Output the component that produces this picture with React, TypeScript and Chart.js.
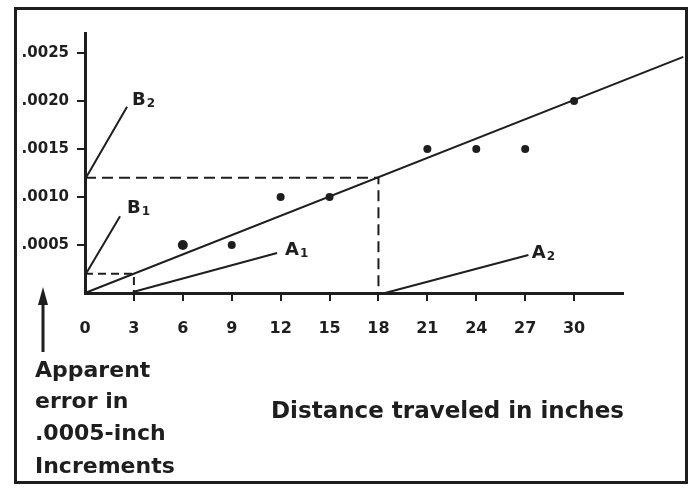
import { useEffect, useRef } from "react";
import { Chart, registerables } from "chart.js";

Chart.register(...registerables);

// ---- data (in chart units) ----
const xTicks = [0, 3, 6, 9, 12, 15, 18, 21, 24, 27, 30];
const yTicks = [0.0005, 0.001, 0.0015, 0.002, 0.0025];
const distance = [6, 9, 12, 15, 21, 24, 27, 30];
const apparentError = [0.0005, 0.0005, 0.001, 0.001, 0.0015, 0.0015, 0.0015, 0.002];
const pointSizes = [5, 4, 4, 4, 4, 4, 4, 4];
const fitX = [0, 36.7];
const fitY = [0, 0.00246];
const guideB2X = [0, 18, 18];
const guideB2Y = [0.0012, 0.0012, 0];
const guideB1X = [0, 3, 3];
const guideB1Y = [0.0002, 0.0002, 0];
const calloutMain = ["B", "B", "A", "A"];
const calloutSub = ["2", "1", "1", "2"];
const calloutX = [2.88, 2.58, 12.27, 27.4];
const calloutY = [0.00196, 0.000833, 0.000396, 0.000365];
const leaderFromX = [0.06, 0.06, 2.94, 18.4];
const leaderFromY = [0.0012, 0.0002, 0.00001, 0];
const leaderToX = [2.58, 2.15, 11.78, 27.2];
const leaderToY = [0.00194, 0.0008, 0.000417, 0.000396];
const yAxisNote = ["Apparent", "error in", ".0005-inch", "Increments"];
const xTitle = "Distance traveled in inches";

const INK = "#1e1e1e";
const FONT = "'DejaVu Sans', sans-serif";

const zip = (xs: number[], ys: number[]) => xs.map((x, i) => ({ x, y: ys[i] }));

const decorations = {
  id: "decorations",
  afterDraw(chart: any) {
    const { ctx } = chart;
    const xs = chart.scales.x;
    const ys = chart.scales.y;
    ctx.save();
    // frame
    ctx.strokeStyle = INK;
    ctx.lineWidth = 3;
    ctx.strokeRect(15.5, 8.5, 671, 474);

    // callout labels
    ctx.fillStyle = INK;
    ctx.textBaseline = "alphabetic";
    ctx.textAlign = "left";
    calloutMain.forEach((m, i) => {
      const px = xs.getPixelForValue(calloutX[i]);
      const py = ys.getPixelForValue(calloutY[i]);
      ctx.font = `bold 18px ${FONT}`;
      ctx.fillText(m, px, py);
      const w = ctx.measureText(m).width;
      ctx.font = `bold 12px ${FONT}`;
      ctx.fillText(calloutSub[i], px + w + 1, py + 2);
    });

    // y-axis note
    ctx.font = `bold 22px ${FONT}`;
    const baselines = [377, 408, 440, 473];
    yAxisNote.forEach((t, i) => ctx.fillText(t, 35, baselines[i]));

    // x title
    ctx.font = `bold 23px ${FONT}`;
    ctx.fillText(xTitle, 271, 418);

    // arrow
    ctx.strokeStyle = INK;
    ctx.lineWidth = 3;
    ctx.beginPath();
    ctx.moveTo(43, 352);
    ctx.lineTo(43, 300);
    ctx.stroke();
    ctx.beginPath();
    ctx.moveTo(43, 287);
    ctx.lineTo(48, 305);
    ctx.lineTo(38, 305);
    ctx.closePath();
    ctx.fill();
    ctx.restore();
  },
};

export default function App() {
  const ref = useRef<HTMLCanvasElement | null>(null);

  useEffect(() => {
    if (!ref.current) return;
    const leaders = calloutMain.map((_, i) => ({
      type: "line" as const,
      data: [
        { x: leaderFromX[i], y: leaderFromY[i] },
        { x: leaderToX[i], y: leaderToY[i] },
      ],
      borderColor: INK,
      borderWidth: 2,
      pointRadius: 0,
      clip: false as any,
    }));
    const chart = new Chart(ref.current, {
      type: "scatter",
      data: {
        datasets: [
          {
            type: "line",
            data: zip(fitX, fitY),
            borderColor: INK,
            borderWidth: 2,
            pointRadius: 0,
            clip: false as any,
          },
          {
            type: "line",
            data: zip(guideB2X, guideB2Y),
            borderColor: INK,
            borderWidth: 2,
            borderDash: [11, 6],
            pointRadius: 0,
            clip: false as any,
          },
          {
            type: "line",
            data: zip(guideB1X, guideB1Y),
            borderColor: INK,
            borderWidth: 2,
            borderDash: [8, 5],
            pointRadius: 0,
            clip: false as any,
          },
          ...leaders,
          {
            type: "scatter",
            data: zip(distance, apparentError),
            backgroundColor: INK,
            borderWidth: 0,
            pointRadius: pointSizes,
            clip: false as any,
          },
        ] as any,
      },
      options: {
        animation: false,
        responsive: false,
        events: [],
        layout: { padding: { left: 0, right: 67, top: 33, bottom: 0 } },
        plugins: { legend: { display: false }, tooltip: { enabled: false } },
        scales: {
          x: {
            type: "linear",
            min: 0,
            max: 33,
            afterBuildTicks: (s: any) => {
              s.ticks = xTicks.map((v) => ({ value: v }));
            },
            afterFit: (s: any) => {
              s.height = 195;
            },
            border: { display: true, color: INK, width: 3 },
            grid: {
              drawOnChartArea: false,
              drawTicks: true,
              tickLength: 8,
              lineWidth: 2,
              color: (c: any) => (c.tick && c.tick.value === 0 ? "rgba(0,0,0,0)" : INK),
            },
            ticks: {
              color: INK,
              padding: 18,
              maxRotation: 0,
              autoSkip: false,
              font: { family: FONT, size: 16, weight: "bold" },
            },
          },
          y: {
            type: "linear",
            min: 0,
            max: 0.002708,
            afterBuildTicks: (s: any) => {
              s.ticks = yTicks.map((v) => ({ value: v }));
            },
            afterFit: (s: any) => {
              s.width = 85;
            },
            border: { display: true, color: INK, width: 3 },
            grid: {
              drawOnChartArea: false,
              drawTicks: true,
              tickLength: 8,
              lineWidth: 2,
              color: INK,
            },
            ticks: {
              color: INK,
              padding: 8,
              autoSkip: false,
              font: { family: FONT, size: 15, weight: "bold" },
              callback: (v: any) => Number(v).toFixed(4).replace(/^0/, ""),
            },
          },
        },
      } as any,
      plugins: [decorations],
    });
    return () => chart.destroy();
  }, []);

  return (
    <div style={{ position: "fixed", left: 0, top: 0, width: 690, height: 488, background: "#fff" }}>
      <canvas ref={ref} width={690} height={488} style={{ display: "block" }} />
    </div>
  );
}
